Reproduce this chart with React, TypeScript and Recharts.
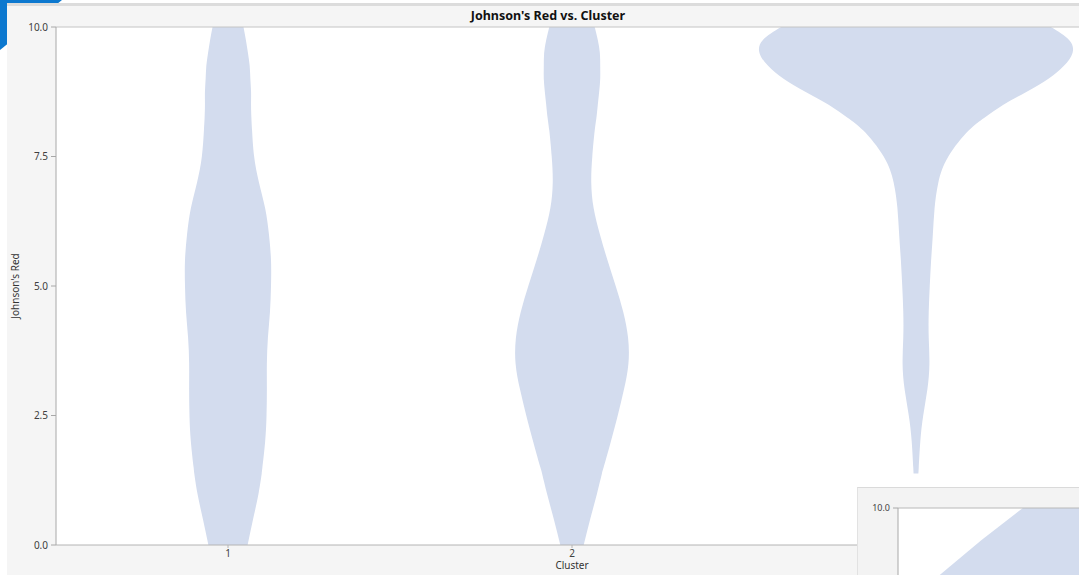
import React from "react";
import {
  Area,
  CartesianGrid,
  ComposedChart,
  Label,
  ReferenceLine,
  XAxis,
  YAxis,
} from "recharts";

const FONT = "'Noto Sans', 'Open Sans', sans-serif";
const VIOLIN = "#d3dcee";
const TICK = { fill: "#404040", fontSize: 10, fontFamily: FONT };

// Johnson's Red levels where each cluster's density is sampled (top to bottom)
const LEVELS = [10, 9.75, 9.5, 9.25, 9, 8.75, 8.5, 8.25, 8, 7.5, 7, 6.5, 6, 5.5, 5, 4.5, 4, 3.5, 3, 2.5, 2, 1.5, 1.38, 1, 0.5, 0];

// violin half-widths, in cluster-axis units
const CLUSTER_1 = [0.045, 0.052, 0.058, 0.063, 0.065, 0.067, 0.067, 0.068, 0.07, 0.076, 0.09, 0.108, 0.119, 0.125, 0.125, 0.122, 0.116, 0.113, 0.113, 0.112, 0.108, 0.1, 0.098, 0.089, 0.073, 0.057];
const CLUSTER_2 = [0.066, 0.075, 0.081, 0.082, 0.082, 0.079, 0.075, 0.071, 0.066, 0.059, 0.056, 0.063, 0.081, 0.103, 0.127, 0.149, 0.163, 0.164, 0.151, 0.133, 0.113, 0.092, 0.087, 0.073, 0.053, 0.034];
const CLUSTER_3 = [0.392, 0.445, 0.455, 0.43, 0.385, 0.322, 0.254, 0.199, 0.153, 0.094, 0.065, 0.054, 0.049, 0.044, 0.04, 0.037, 0.037, 0.039, 0.033, 0.021, 0.0125, 0.008, 0.007, null, null, null];

const CLUSTERS = [1, 2, 3];
const Y_TICKS = [0, 2.5, 5, 7.5, 10];

// second window peeking in at the bottom right
const INSET_X = [1, 2.3, 4.6, 6.9, 10];
const INSET_Y = [2.3, 4.8, 7.5, 10, 10];

const span = (c: number, w: number | null) => (w == null ? null : [c - w, c + w]);

const rows = LEVELS.map((v, i) => ({
  v,
  c1: span(1, CLUSTER_1[i]),
  c2: span(2, CLUSTER_2[i]),
  c3: span(3, CLUSTER_3[i]),
}));

const insetRows = INSET_X.map((x, i) => ({ x, y: INSET_Y[i] }));

function ViolinChart() {
  return (
    <ComposedChart
      layout="vertical"
      width={1100}
      height={575}
      data={rows}
      margin={{ top: 27, right: 12, bottom: 0, left: 0 }}
    >
      <CartesianGrid fill="#ffffff" horizontal={false} vertical={false} />
      <XAxis
        type="number"
        domain={[0.5, 3.5]}
        ticks={CLUSTERS}
        allowDataOverflow
        height={30}
        tick={TICK}
        tickSize={3}
        tickMargin={2}
        stroke="#b4b4b4"
      >
        <Label
          content={({ viewBox }: any) => (
            <text
              x={viewBox.x + viewBox.width / 2}
              y={569}
              textAnchor="middle"
              fill="#333"
              fontSize={10}
              fontFamily={FONT}
            >
              Cluster
            </text>
          )}
        />
      </XAxis>
      <YAxis
        type="number"
        dataKey="v"
        domain={[0, 10]}
        ticks={Y_TICKS}
        reversed
        allowDataOverflow
        width={56}
        tick={TICK}
        tickSize={5}
        tickMargin={3}
        tickFormatter={(t: number) => t.toFixed(1)}
        stroke="#a8a8a8"
      >
        <Label
          content={({ viewBox }: any) => {
            const cy = viewBox.y + viewBox.height / 2;
            return (
              <text
                x={19}
                y={cy}
                transform={`rotate(-90 19 ${cy})`}
                textAnchor="middle"
                fill="#333"
                fontSize={10}
                fontFamily={FONT}
              >
                Johnson's Red
              </text>
            );
          }}
        />
      </YAxis>
      {(["c1", "c2", "c3"] as const).map((k) => (
        <Area
          key={k}
          dataKey={k}
          type="natural"
          fill={VIOLIN}
          fillOpacity={1}
          stroke="none"
          isAnimationActive={false}
        />
      ))}
      <ReferenceLine y={10} stroke="#c4c4c4" ifOverflow="visible" />
    </ComposedChart>
  );
}

function InsetChart() {
  return (
    <ComposedChart
      width={222}
      height={150}
      data={insetRows}
      margin={{ top: 21, right: 0, bottom: 0, left: 0 }}
    >
      <CartesianGrid fill="#ffffff" horizontal={false} vertical={false} />
      <XAxis type="number" dataKey="x" domain={[0, 10]} hide />
      <YAxis
        type="number"
        domain={[0, 10]}
        ticks={[10]}
        width={41}
        tick={{ fill: "#444", fontSize: 9, fontFamily: FONT }}
        tickSize={5}
        tickMargin={3}
        tickFormatter={(t: number) => t.toFixed(1)}
        stroke="#a8a8a8"
      />
      <Area
        dataKey="y"
        type="linear"
        fill={VIOLIN}
        fillOpacity={1}
        stroke="none"
        isAnimationActive={false}
      />
      <ReferenceLine y={10} stroke="#b8b8b8" ifOverflow="visible" />
    </ComposedChart>
  );
}

export default function App() {
  return (
    <div
      style={{
        position: "absolute",
        left: 0,
        top: 0,
        width: 1079,
        height: 575,
        overflow: "hidden",
        background: "#ffffff",
        fontFamily: FONT,
      }}
    >
      <div
        style={{
          position: "absolute",
          left: 0,
          top: 0,
          width: 62,
          height: 50,
          background: "#0c78cf",
          clipPath: "polygon(0 0, 100% 0, 0 100%)",
        }}
      />
      <div
        style={{
          position: "absolute",
          left: 7,
          top: 3,
          right: 0,
          bottom: 0,
          background: "#f5f5f5",
          borderTop: "3px solid #dcdcdc",
        }}
      />
      <div
        style={{
          position: "absolute",
          left: 0,
          top: 8,
          width: 1096,
          textAlign: "center",
          fontSize: 12.5,
          fontWeight: 700,
          color: "#111111",
          lineHeight: "16px",
        }}
      >
        Johnson's Red vs. Cluster
      </div>
      <div style={{ position: "absolute", left: 0, top: 0 }}>
        <ViolinChart />
      </div>
      <div
        style={{
          position: "absolute",
          left: 857,
          top: 487,
          width: 222,
          height: 88,
          overflow: "hidden",
          background: "#f3f3f3",
          borderTop: "1px solid #dadada",
          borderLeft: "1px solid #e2e2e2",
          boxSizing: "border-box",
        }}
      >
        <div style={{ position: "absolute", left: -1, top: -1 }}>
          <InsetChart />
        </div>
      </div>
    </div>
  );
}
